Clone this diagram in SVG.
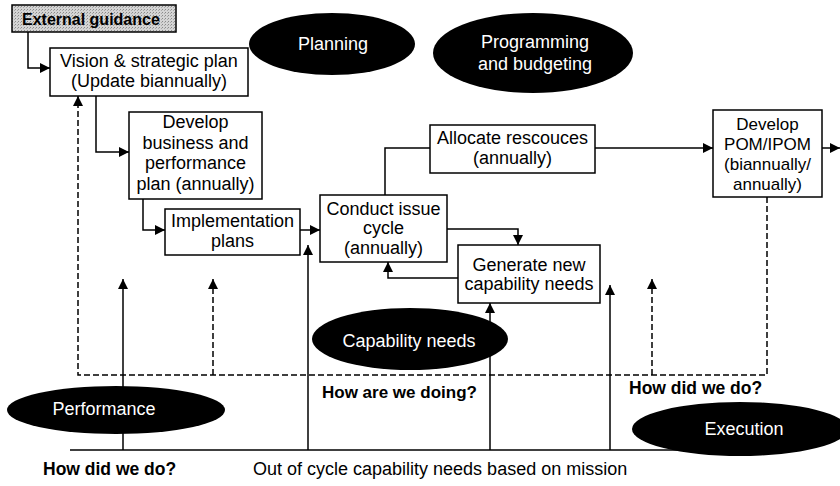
<svg xmlns="http://www.w3.org/2000/svg" width="840" height="486" viewBox="0 0 840 486">
<defs>
<marker id="ah" viewBox="0 0 10 10" refX="10" refY="5" markerWidth="10" markerHeight="10" markerUnits="userSpaceOnUse" orient="auto">
<path d="M0,0 L10,5 L0,10 z" fill="#000"/>
</marker>
<pattern id="stip" width="3" height="3" patternUnits="userSpaceOnUse">
<rect width="3" height="3" fill="#d4d4d4"/>
<rect x="0" y="0" width="1" height="1" fill="#8a8a8a"/>
<rect x="2" y="1" width="1" height="1" fill="#a8a8a8"/>
</pattern>
<style>
.box{fill:#fff;stroke:#000;stroke-width:1.5}
.t{font-family:"Liberation Sans",Arial,sans-serif;font-size:18px;fill:#000;text-anchor:middle}
.b{font-family:"Liberation Sans",Arial,sans-serif;font-size:17.5px;font-weight:bold;fill:#000}
.w{font-family:"Liberation Sans",Arial,sans-serif;font-size:18px;fill:#fff;text-anchor:middle}
.c{fill:none;stroke:#000;stroke-width:1.5}
.d{fill:none;stroke:#000;stroke-width:1.5;stroke-dasharray:6,3}
.a{marker-end:url(#ah)}
.ell{fill:#000}
</style>
</defs>

<g id="connectors">
<path class="c a" d="M28,32 V68 H50"/>
<path class="c a" d="M96,96 V152 H129"/>
<path class="c a" d="M143,199 V230 H165"/>
<path class="c a" d="M300,230 H320"/>
<path class="c" d="M385,195 V148 H430"/>
<path class="c a" d="M595,148 H713"/>
<path class="c a" d="M822,148 H840"/>
<path class="c a" d="M447,229 H518 V245"/>
<path class="c a" d="M458,278 H388 V262"/>
<path class="d a" d="M767,197 V375 H78 V96"/>
<path class="d a" d="M213,375 V279"/>
<path class="d a" d="M652,375 V279"/>
<path class="c" d="M70,450 H700"/>
<path class="c a" d="M123,450 V279"/>
<path class="c a" d="M308,450 V245"/>
<path class="c a" d="M490,450 V303"/>
<path class="c a" d="M610,450 V285"/>
</g>

<g id="external-guidance">
<rect x="12" y="5" width="164" height="27" fill="url(#stip)" stroke="#000" stroke-width="1.5"/>
<text class="b" x="22" y="25" style="font-size:16px">External guidance</text>
</g>

<g id="vision">
<rect class="box" x="50" y="48" width="198" height="48"/>
<text class="t" x="149" y="67">Vision &amp; strategic plan</text>
<text class="t" x="149" y="87">(Update biannually)</text>
</g>

<g id="develop-business">
<rect class="box" x="129" y="112" width="133" height="87"/>
<text class="t" x="195.5" y="128">Develop</text>
<text class="t" x="195.5" y="149">business and</text>
<text class="t" x="195.5" y="169">performance</text>
<text class="t" x="195.5" y="190">plan (annually)</text>
</g>

<g id="implementation">
<rect class="box" x="165" y="209" width="135" height="46"/>
<text class="t" x="232.5" y="227">Implementation</text>
<text class="t" x="232.5" y="247">plans</text>
</g>

<g id="conduct-issue">
<rect class="box" x="320" y="195" width="127" height="67"/>
<text class="t" x="383.5" y="215">Conduct issue</text>
<text class="t" x="383.5" y="234">cycle</text>
<text class="t" x="383.5" y="254">(annually)</text>
</g>

<g id="allocate">
<rect class="box" x="430" y="125" width="165" height="48"/>
<text class="t" x="512.5" y="144">Allocate rescouces</text>
<text class="t" x="512.5" y="164">(annually)</text>
</g>

<g id="pom">
<rect class="box" x="713" y="110" width="109" height="87"/>
<text class="t" x="767.5" y="130" style="font-size:17px">Develop</text>
<text class="t" x="767.5" y="150" style="font-size:17px">POM/IPOM</text>
<text class="t" x="767.5" y="170" style="font-size:17px">(biannually/</text>
<text class="t" x="767.5" y="190" style="font-size:17px">annually)</text>
</g>

<g id="generate">
<rect class="box" x="458" y="245" width="142" height="58"/>
<text class="t" x="529" y="271">Generate new</text>
<text class="t" x="529" y="290">capability needs</text>
</g>

<g id="planning">
<ellipse class="ell" cx="332" cy="44" rx="83" ry="31"/>
<text class="w" x="333" y="50">Planning</text>
</g>

<g id="programming">
<ellipse class="ell" cx="533" cy="53" rx="100" ry="40"/>
<text class="w" x="535" y="48">Programming</text>
<text class="w" x="535" y="70">and budgeting</text>
</g>

<g id="capability-needs">
<ellipse class="ell" cx="410" cy="339" rx="98" ry="31"/>
<text class="w" x="409" y="347">Capability needs</text>
</g>

<g id="performance">
<ellipse class="ell" cx="116" cy="410" rx="109" ry="24"/>
<text class="w" x="104" y="415">Performance</text>
</g>

<g id="execution">
<ellipse class="ell" cx="740" cy="429" rx="108" ry="27"/>
<text class="w" x="744" y="435">Execution</text>
</g>

<g id="labels">
<text class="b" x="322" y="398" style="font-size:17px">How are we doing?</text>
<text class="b" x="629" y="394">How did we do?</text>
<text class="b" x="43" y="475">How did we do?</text>
<text class="t" x="253" y="475" style="text-anchor:start">Out of cycle capability needs based on mission</text>
</g>
</svg>
